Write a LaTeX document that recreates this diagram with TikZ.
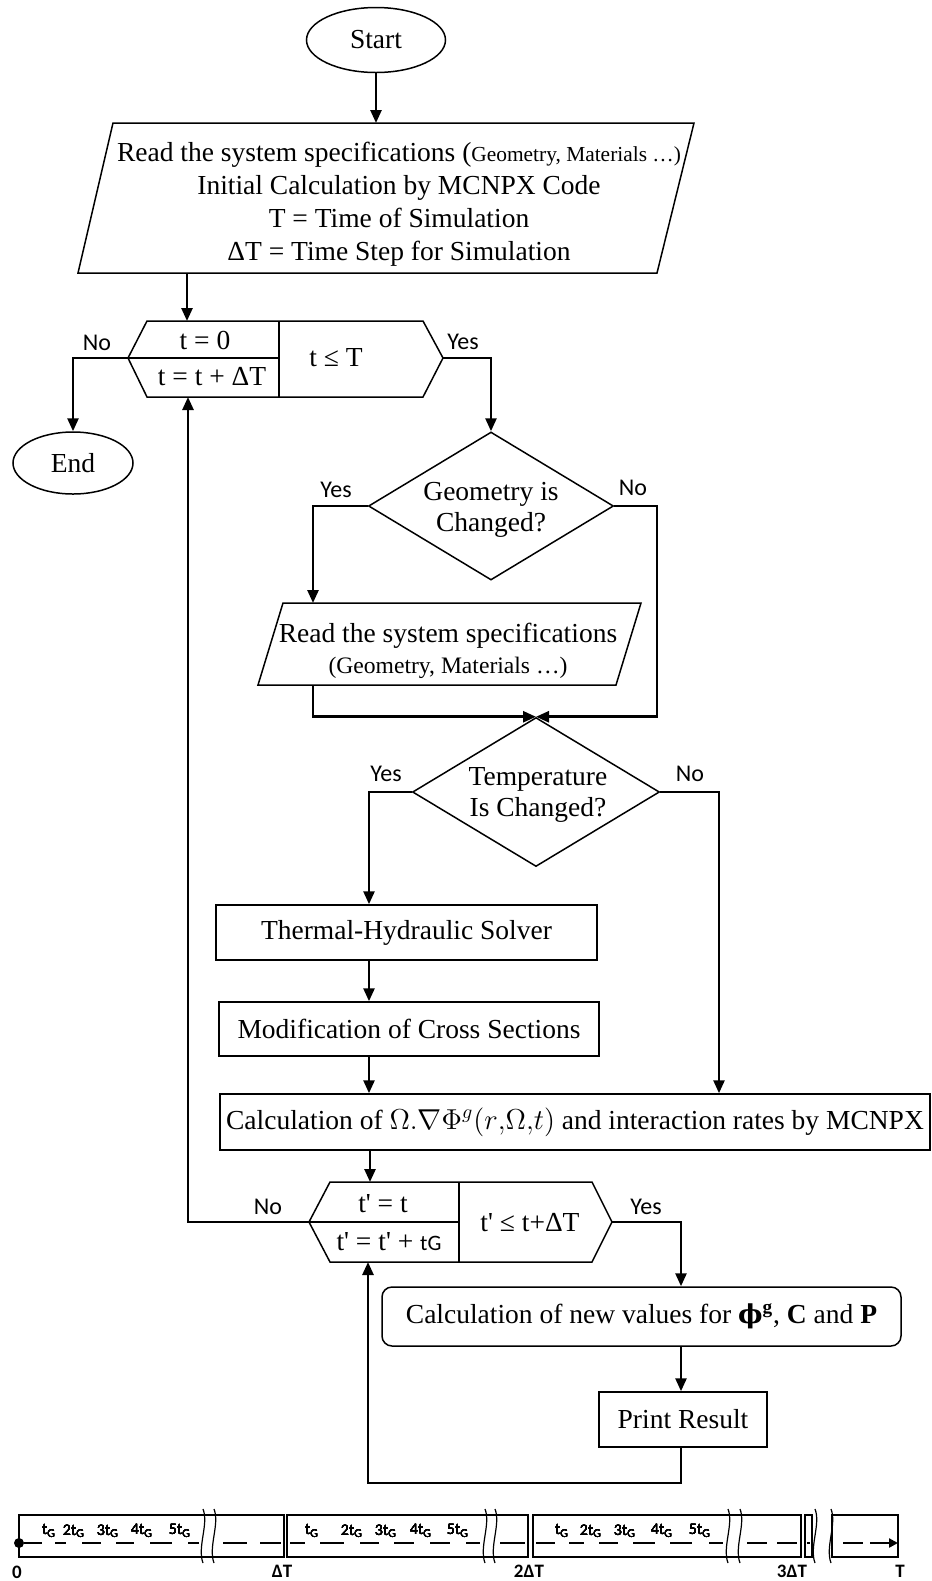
\documentclass[tikz,border=0pt]{standalone}
\usepackage{amsmath}
\usepackage{fontspec}
\setmainfont{Liberation Serif}
\newfontfamily\lblfont{Carlito}
\newfontfamily\phifont{DejaVu Serif}
\usetikzlibrary{arrows.meta}
\usetikzlibrary{shapes.geometric}
\tikzset{
  box/.style={draw, line width=0.75pt, align=center, inner sep=0pt},
  term/.style={box, ellipse},
  decision/.style={box, diamond, aspect=1.66},
  proc/.style={box, rectangle},
  txt/.style={inner sep=0pt, align=center},
  yn/.style={inner sep=0pt, font=\lblfont\fontsize{12}{14}\selectfont},
  arr/.style={-{Triangle[length=6.5pt,width=5.5pt]}, line width=1.3pt},
  tline/.style={line width=0.6pt},
  tdash/.style={line width=1.3pt},
  tlbl/.style={inner sep=0pt, font=\lblfont\fontsize{8}{9}\selectfont},
  tmark/.style={inner sep=0pt, font=\lblfont\bfseries\fontsize{9.5}{10}\selectfont}
}
\newcommand{\tlbreak}[1]{\draw[tline] (#1,1509) .. controls (#1+6,1524) and (#1-6,1547) .. (#1,1563);}
\newcommand{\tG}{t\textsubscript{G}}
\newcommand{\tp}{t\textquotesingle}

\begin{document}
\begin{tikzpicture}[x=0.5pt, y=-0.5pt, font=\fontsize{13.75}{15.5}\selectfont]
        \useasboundingbox (0,0) rectangle (932,1581);

        % start and input
        \node[term, minimum width=69.5pt, minimum height=32.5pt] (start) at (376,40) {Start};
        \coordinate (r1) at (113,123);
        \coordinate (r2) at (694,123);
        \coordinate (r3) at (657,273);
        \coordinate (r4) at (78,273);
        \draw[box] (r1) -- (r2) -- (r3) -- (r4) -- cycle;
        \node[txt, font=\fontsize{13.75}{16.5}\selectfont] (readtxt) at (399,204)
              {Read the system specifications ({\fontsize{10.7}{12}\selectfont Geometry, Materials …)}\\
               Initial Calculation by MCNPX Code\\
               T = Time of Simulation\\
               ΔT = Time Step for Simulation};
        \node[term, minimum width=60pt, minimum height=31pt] (stop) at (73,463) {End};

        % loop over t
        \coordinate (h1w) at (128,358);
        \coordinate (h1e) at (443,358);
        \coordinate (h1top) at (187,321);
        \coordinate (h1bot) at (188,397);
        \draw[box] (h1w) -- (147,321) -- (423,321) -- (h1e) -- (423,397) -- (147,397) -- cycle;
        \draw[box] (279,321) -- (279,397) (h1w) -- (279,358);
        \node[txt] (tinit) at (205,340) {t = 0};
        \node[txt] (tstep) at (212,377) {t = t + ΔT};
        \node[txt] (tcond) at (336,358) {t ≤ T};

        % geometry and temperature checks
        \node[decision, minimum width=122.5pt, minimum height=74pt] (geo) at (491,506) {};
        \node[txt] (geotxt) at (491,510) {Geometry is\\Changed?};
        \coordinate (s1) at (283,603);
        \coordinate (s2) at (641,603);
        \coordinate (s3) at (616,685);
        \coordinate (s4) at (258,685);
        \draw[box] (s1) -- (s2) -- (s3) -- (s4) -- cycle;
        \node[txt] (spectxt) at (448,651)
              {Read the system specifications\\{\fontsize{11.8}{13}\selectfont (Geometry, Materials …)}};
        \node[decision, minimum width=123.5pt, minimum height=74.5pt] (tmp) at (536,792) {};
        \node[txt] (tmptxt) at (538,795) {Temperature\\Is Changed?};

        % solver boxes
        \node[proc, minimum width=190.5pt, minimum height=27.5pt] (thsolver) at (406.5,932.5) {Thermal-Hydraulic Solver};
        \node[proc, minimum width=190pt, minimum height=27pt] (xsec) at (409,1029) {Modification of Cross Sections};
        \node[proc, minimum width=355pt, minimum height=28pt] (calcflux) at (575,1122)
              {Calculation of $\Omega.\nabla\Phi^{g}(r{,}\Omega{,}t)$ and interaction rates by MCNPX};

        % loop over t'
        \coordinate (h2w) at (309,1222);
        \coordinate (h2e) at (612,1222);
        \coordinate (h2top) at (370,1182);
        \coordinate (h2bot) at (368,1262);
        \draw[box] (h2w) -- (330,1182) -- (592,1182) -- (h2e) -- (592,1262) -- (330,1262) -- cycle;
        \draw[box] (459,1182) -- (459,1262) (h2w) -- (459,1222);
        \node[txt] (tpinit) at (383,1204) {\tp{} = t};
        \node[txt] (tpstep) at (389,1242) {\tp{} = \tp{} + {\lblfont\fontsize{11}{12}\selectfont tG}};
        \node[txt] (tpcond) at (530,1223) {\tp{} ≤ t+ΔT};

        \node[proc, rounded corners=5pt, minimum width=259.5pt, minimum height=29.5pt] (newval) at (641.5,1316.5)
              {Calculation of new values for {\phifont\bfseries\fontsize{13}{15}\selectfont ϕ}\textsuperscript{\textbf{g}}, \textbf{C} and \textbf{P}};
        \node[proc, minimum width=84pt, minimum height=27.5pt] (print) at (683,1419.5) {Print Result};

        % yes / no labels
        \node[yn] (n1) at (97,343) {No};
        \node[yn] (y1) at (463,342) {Yes};
        \node[yn] (y2) at (336,490) {Yes};
        \node[yn] (n2) at (633,488) {No};
        \node[yn] (y3) at (386,774) {Yes};
        \node[yn] (n3) at (690,774) {No};
        \node[yn] (n4) at (268,1207) {No};
        \node[yn] (y4) at (646,1207) {Yes};

        % connectors
        \coordinate (gyes) at (313,506);
        \coordinate (gno) at (657,506);
        \coordinate (tyes) at (369,792);
        \coordinate (tno) at (719,792);
        \coordinate (h2yes) at (681,1222);
        \coordinate (lpb) at (368,1483);
        \draw[arr] (start) -- (start |- r1);
        \draw[arr] (h1top |- r4) -- (h1top);
        \draw[arr] (h1w) -| (stop);
        \draw[arr] (h1e) -| (geo);
        \draw[arr] (geo.west) -- (gyes) -- (gyes |- s1);
        \draw[arr] (geo.east) -- (gno) |- (tmp.north);
        \draw[arr] (gyes |- s4) |- (tmp.north);
        \draw[arr] (tmp.west) -- (tyes) -- (tyes |- thsolver.north);
        \draw[arr] (tmp.east) -- (tno) -- (tno |- calcflux.north);
        \draw[arr] (thsolver.south -| tyes) -- (xsec.north -| tyes);
        \draw[arr] (xsec.south -| tyes) -- (calcflux.north -| tyes);
        \draw[arr] (calcflux.south -| h2top) -- (h2top);
        \draw[arr] (h2w) -| (h1bot);
        \draw[arr] (h2e) -- (h2yes) -- (h2yes |- newval.north);
        \draw[arr] (newval.south -| h2yes) -- (print.north -| h2yes);
        \draw[arr] (print.south -| h2yes) |- (lpb) -- (h2bot);

        % time line
        \foreach \a/\b in {19/284,287/528,533/801,805/812,832/898}
            \draw[tline] (\a,1515) rectangle (\b,1557);
        \foreach \a/\b in {24/42,55/66,82/101,116/134,150/172,188/199,223/247,260/281,
                           290/305,320/344,360/379,394/414,430/450,466/480,500/525,
                           536/555,569/584,599/618,633/655,670/692,709/723,747/767,777/797,
                           807/810,843/863}
            \draw[tdash] (\a,1543) -- (\b,1543);
        \draw[tdash, -{Triangle[length=4.5pt,width=4.5pt]}] (870,1543) -- (898,1543);
        \fill (19,1543) circle (2.5pt);
        \foreach \x in {203,214,485,495,728,740,815,831}
            \tlbreak{\x}
        \foreach \x/\l in {49/\tG,74/2\tG,108/3\tG,142/4\tG,180/5\tG,
                           312/\tG,352/2\tG,386/3\tG,421/4\tG,458/5\tG,
                           562/\tG,591/2\tG,625/3\tG,662/4\tG,700/5\tG}
            \node[tlbl] (tg\x) at (\x,1531) {\l};
        \node[tmark] (m0) at (17,1572) {0};
        \node[tmark] (m1) at (282,1571) {ΔT};
        \node[tmark] (m2) at (529,1571) {2ΔT};
        \node[tmark] (m3) at (792,1571) {3ΔT};
        \node[tmark] (mT) at (900,1571) {T};
\end{tikzpicture}
\end{document}
